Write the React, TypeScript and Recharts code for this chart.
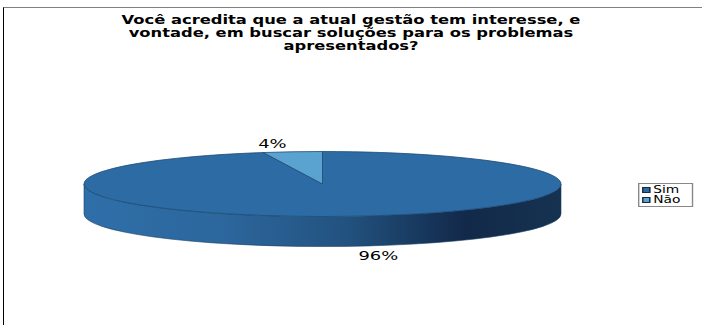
import { PieChart, Pie, Cell, Legend } from "recharts"

const categories = ["Sim", "Não"]
const shares = [96, 4]
const sliceColors = ["#2c6ba4", "#5aa3d1"]

const title = [
  "Você acredita que a atual gestão tem interesse, e",
  "vontade, em buscar soluções para os problemas",
  "apresentados?",
]

const data = categories.map((name, i) => ({ name, value: shares[i] }))

// flattened "3D" look, text is stretched wide like the source image
const RY_RATIO = 32.5 / 238.5
const DEPTH = 30
const STRETCH = 1.38
const RAD = Math.PI / 180

const pt = (cx: number, cy: number, rx: number, ry: number, a: number) => [
  cx + rx * Math.cos(a * RAD),
  cy - ry * Math.sin(a * RAD),
]

function EllipseSlice(props: any) {
  const { cx, cy, outerRadius, startAngle, endAngle, fill, index } = props
  const rx = outerRadius
  const ry = outerRadius * RY_RATIO
  const [sx, sy] = pt(cx, cy, rx, ry, startAngle)
  const [ex, ey] = pt(cx, cy, rx, ry, endAngle)
  const large = Math.abs(endAngle - startAngle) > 180 ? 1 : 0
  const sweep = endAngle < startAngle ? 1 : 0
  const top = `M${cx},${cy} L${sx},${sy} A${rx},${ry} 0 ${large} ${sweep} ${ex},${ey} Z`

  // front wall: parts of the arc where sin(angle) < 0
  const lo = Math.min(startAngle, endAngle)
  const hi = Math.max(startAngle, endAngle)
  const walls: string[] = []
  for (let k = -3; k <= 3; k++) {
    const a1 = Math.max(lo, k * 360 + 180)
    const a2 = Math.min(hi, k * 360 + 360)
    if (a2 - a1 > 0.01) {
      const [x1, y1] = pt(cx, cy, rx, ry, a1)
      const [x2, y2] = pt(cx, cy, rx, ry, a2)
      walls.push(
        `M${x1},${y1} A${rx},${ry} 0 0 0 ${x2},${y2} L${x2},${y2 + DEPTH} A${rx},${ry} 0 0 1 ${x1},${y1 + DEPTH} Z`
      )
    }
  }
  const gid = `wall-${index}`
  return (
    <g>
      <defs>
        <linearGradient id={gid} gradientUnits="userSpaceOnUse" x1={cx - rx} y1={0} x2={cx + rx} y2={0}>
          <stop offset="0" stopColor="#2f6fa9" />
          <stop offset="0.3" stopColor="#2c669c" />
          <stop offset="0.55" stopColor="#22527f" />
          <stop offset="0.8" stopColor="#12294a" />
          <stop offset="1" stopColor="#163251" />
        </linearGradient>
      </defs>
      {walls.map((d, i) => (
        <path key={i} d={d} fill={`url(#${gid})`} stroke="#1b3f63" strokeWidth={0.6} />
      ))}
      <path d={top} fill={fill} stroke="#1d4a74" strokeWidth={0.8} />
    </g>
  )
}

function SliceLabel(props: any) {
  const { cx, cy, midAngle, outerRadius, percent } = props
  const rx = outerRadius
  const ry = outerRadius * RY_RATIO
  let [px, py] = pt(cx, cy, rx, ry, midAngle)
  const s = Math.sin(midAngle * RAD)
  const c = Math.cos(midAngle * RAD)
  if (s < 0) py += DEPTH
  const x = px + (c >= 0 ? 6 : -6)
  const y = py + (s >= 0 ? -4 : 14)
  return (
    <text
      x={0}
      y={0}
      transform={`translate(${x},${y}) scale(${STRETCH},1)`}
      textAnchor={c >= 0 ? "start" : "end"}
      fontFamily="DejaVu Sans"
      fontSize={13}
      fill="#000"
    >
      {`${Math.round(percent * 100)}%`}
    </text>
  )
}

function LegendBox(props: any) {
  const items = [...(props.payload || [])].sort(
    (a: any, b: any) => categories.indexOf(a.value) - categories.indexOf(b.value)
  )
  return (
    <div
      style={{
        width: 34,
        border: "1px solid #888",
        padding: "1px 2px 1px 2px",
        background: "#fff",
        fontFamily: "DejaVu Sans",
        fontSize: 10,
        lineHeight: "10px",
        transform: `scaleX(${STRETCH})`,
        transformOrigin: "left top",
      }}
    >
      {items.map((p: any, i: number) => (
        <div key={i} style={{ display: "flex", alignItems: "center", height: 10 }}>
          <span
            style={{
              display: "inline-block",
              width: 4,
              height: 4,
              background: sliceColors[categories.indexOf(p.value)],
              border: "1px solid #1a2a3a",
              marginRight: 2,
            }}
          />
          <span>{p.value}</span>
        </div>
      ))}
    </div>
  )
}

export default function App() {
  return (
    <div style={{ position: "absolute", left: 0, top: 0, width: 702, height: 325, background: "#fff" }}>
      <div
        style={{
          position: "absolute",
          left: 3,
          top: 7,
          width: 699,
          height: 318,
          borderTop: "1px solid #808080",
          borderLeft: "1px solid #000",
        }}
      />
      <div
        style={{
          position: "absolute",
          left: 351 - 250,
          top: 14,
          width: 500,
          textAlign: "center",
          fontFamily: "DejaVu Sans",
          fontWeight: "bold",
          fontSize: 12,
          lineHeight: "13px",
          transform: `scaleX(${STRETCH - 0.02})`,
          transformOrigin: "center top",
        }}
      >
        {title.map((t, i) => (
          <div key={i}>{t}</div>
        ))}
      </div>
      <PieChart
        width={702}
        height={325}
        margin={{ top: 0, right: 0, bottom: 0, left: 0 }}
        style={{ position: "absolute", left: 0, top: 0 }}
      >
        <Pie
          data={data}
          dataKey="value"
          nameKey="name"
          cx={322.5}
          cy={184}
          outerRadius={238.5}
          startAngle={90}
          endAngle={-270}
          isAnimationActive={false}
          label={SliceLabel}
          labelLine={false}
          shape={EllipseSlice}
          activeShape={EllipseSlice}
          inactiveShape={EllipseSlice}
        >
          {data.map((d, i) => (
            <Cell key={d.name} fill={sliceColors[i]} />
          ))}
        </Pie>
        <Legend
          layout="vertical"
          content={LegendBox}
          wrapperStyle={{ position: "absolute", left: 638, top: 183, width: "auto" }}
        />
      </PieChart>
    </div>
  )
}
